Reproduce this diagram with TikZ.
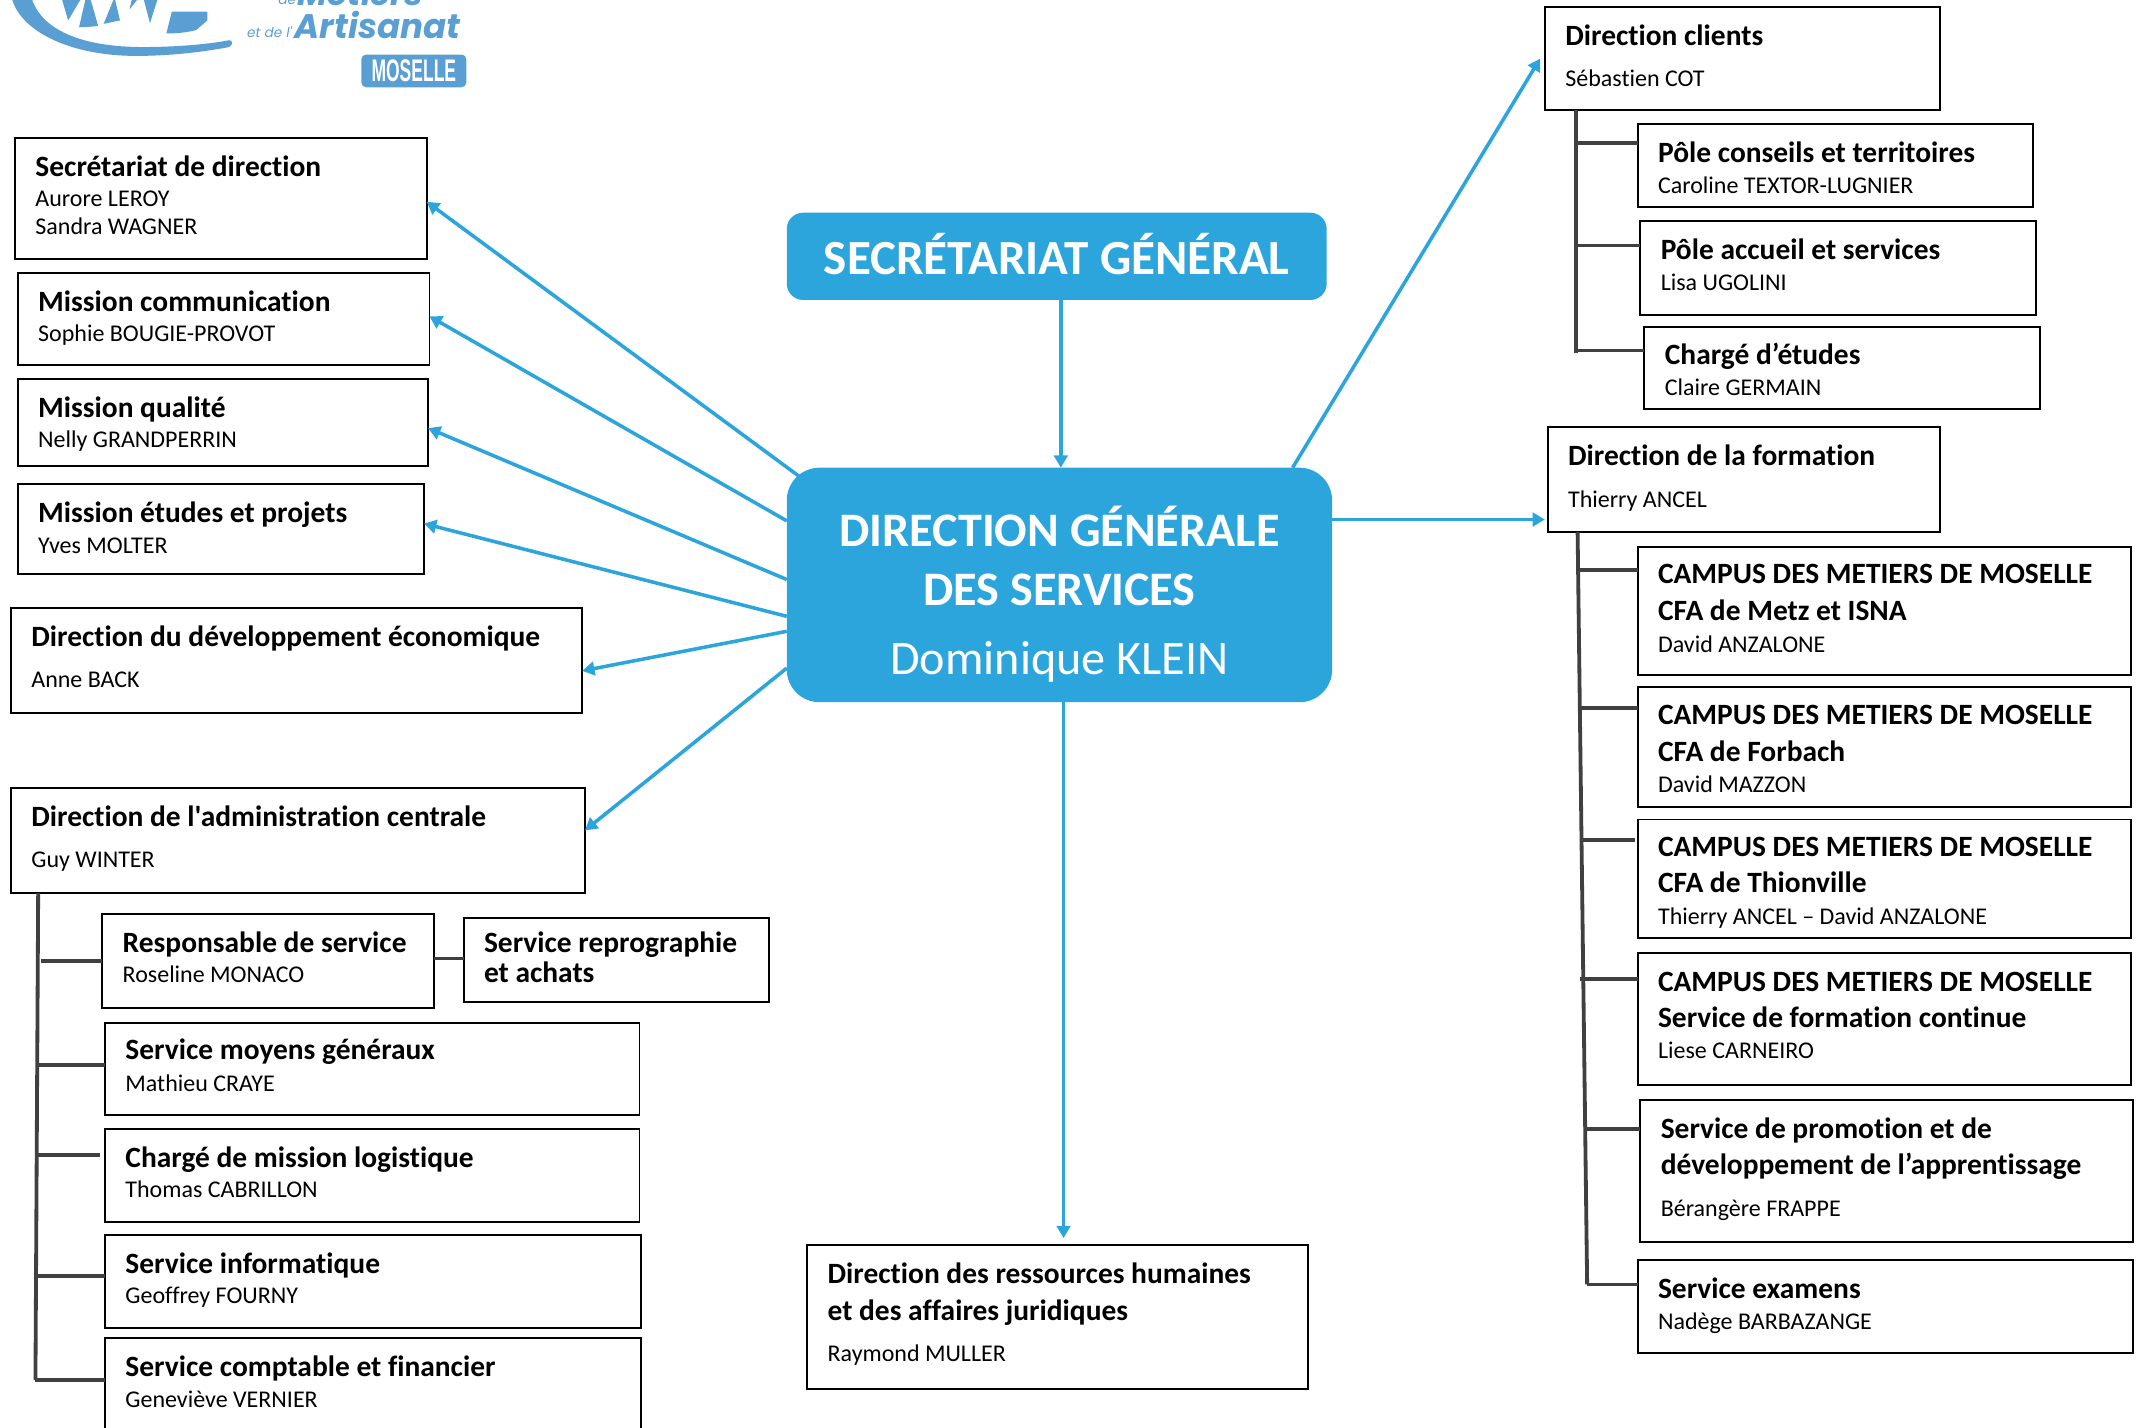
\documentclass[tikz,border=0pt]{standalone}
\usepackage{fontspec}
\setmainfont{Carlito}
\newfontfamily\calib{Carlito}[Ligatures=NoCommon]
\newfontfamily\logofont{Poppins}
\usetikzlibrary{arrows.meta,calc}
\definecolor{bl}{HTML}{2CA5DD}
\definecolor{lg}{HTML}{5A9FD4}
\definecolor{dk}{HTML}{404040}
\tikzset{
  boxst/.style={draw=black,line width=1.4pt,fill=white,inner sep=0pt,outer sep=0pt},
  arr/.style={draw=bl,line width=2.6pt,-{Triangle[length=9pt,width=10pt]},shorten >=0pt},
  tree/.style={draw=dk,line width=2.8pt},
  bluebox/.style={fill=bl,draw=none,inner sep=0pt,outer sep=0pt,text=white,rounded corners=#1},
  logoshape/.style={fill=lg,draw=none},
  logotext/.style={text=lg,inner sep=0pt,anchor=base west}
}
\newcommand\ttf{\calib\fontsize{21.6}{26}\selectfont\bfseries}
\newcommand\nmf{\calib\fontsize{17.6}{21}\selectfont}
\newcommand\hgf{\calib\fontsize{35.3}{40}\selectfont\bfseries}
\newcommand\lT[2]{\hbox{\kern15pt\raisebox{0pt}[#1pt][0pt]{\ttf #2}}}
\newcommand\lN[2]{\hbox{\kern15pt\raisebox{0pt}[#1pt][0pt]{\nmf #2}}}
\newcommand\lC[3]{\hbox to #1pt{\hss\raisebox{0pt}[#2pt][0pt]{#3}\hss}}
\newcommand\bx[6]{%
  \pgfmathsetmacro\bw{#4-#2}\pgfmathsetmacro\bh{#5-#3}%
  \node[boxst] (#1) at ({(#2+#4)/2},{(#3+#5)/2}) {\vbox to \bh pt{\offinterlineskip\hbox to \bw pt{}\kern0.2pt #6\vss}};}
\begin{document}
\begin{tikzpicture}[x=1pt,y=-1pt]
\useasboundingbox (0,0) rectangle (1568,1047.2);
\begin{scope}
\clip (0,0) rectangle (1568,1047.2);
% logo
\fill[logoshape] (8.5,-2) .. controls (14,22) and (50,41) .. (100,41) .. controls (125,41) and (150,38) .. (168,34.5)
  .. controls (171,33) and (171,29.5) .. (168,29.5) .. controls (150,33) and (125,34.5) .. (105,34.5)
  .. controls (60,34.5) and (30,22) .. (23,-2) -- cycle;
\fill[logoshape] (45,-2) -- (60,-2) -- (50,15) -- cycle;
\fill[logoshape] (58,20) -- (63,-2) -- (66,-2) -- (72,19) .. controls (68,19.5) and (62,20) .. (58,20) -- cycle;
\fill[logoshape] (76,17.5) -- (84,-2) -- (88,15) -- cycle;
\fill[logoshape] (95,7) -- (97,-2) -- (102,-2) -- cycle;
\fill[logoshape] (105,-2) -- (116,-2) -- (110,17) -- cycle;
\fill[logoshape] (126,8.5) -- (152,8.5) -- (152,15) -- (144,22) .. controls (136,24) and (130,24.5) .. (122,24.5) -- cycle;
\node[logotext] (lgde) at (204,3.5) {\logofont\itshape\fontsize{10}{12}\selectfont de};
\node[logotext] (lgmet) at (218,4) {\logofont\itshape\bfseries\fontsize{24}{28}\selectfont Métiers};
\node[logotext] (lget) at (181,27.5) {\logofont\itshape\fontsize{10}{12}\selectfont et de l'};
\node[logotext] (lgart) at (216,28) {\logofont\itshape\bfseries\fontsize{25}{28}\selectfont Artisanat};
\node[fill=lg,rounded corners=3.5pt,minimum width=77pt,minimum height=24pt,inner sep=0pt,text=white] (lgmos) at (303.5,52)
  {\resizebox{62pt}{16pt}{\fontspec{Liberation Sans}\bfseries MOSELLE}};
% left column
\bx{sec}{11}{101}{313}{190}{\lT{28}{Secrétariat de direction}\lN{22}{Aurore LEROY}\lN{21}{Sandra WAGNER}}
\bx{com}{13}{200}{315}{268}{\lT{28}{Mission communication}\lN{22}{Sophie BOUGIE-PROVOT}}
\bx{qua}{13}{278}{314}{342}{\lT{28}{Mission qualité}\lN{22}{Nelly GRANDPERRIN}}
\bx{etu}{13}{355}{311}{421}{\lT{28}{Mission études et projets}\lN{23}{Yves MOLTER}}
\bx{dev}{8}{446}{427}{523}{\lT{28}{Direction du développement économique}\lN{30}{Anne BACK}}
\bx{adm}{8}{578}{429}{655}{\lT{28}{Direction de l'administration centrale}\lN{30}{Guy WINTER}}
\bx{res}{75}{670}{318}{739}{\lT{28}{Responsable de service}\lN{22}{Roseline MONACO}}
\bx{rep}{340}{673}{564}{735}{\lT{25}{Service reprographie}\lT{22}{et achats}}
\bx{moy}{77}{750}{469}{818}{\lT{27}{Service moyens généraux}\lN{23}{Mathieu CRAYE}}
\bx{cha}{77}{828}{469}{896}{\lT{28}{Chargé de mission logistique}\lN{22}{Thomas CABRILLON}}
\bx{inf}{77}{906}{470}{974}{\lT{28}{Service informatique}\lN{22}{Geoffrey FOURNY}}
\bx{cpt}{77}{981}{470}{1056}{\lT{28}{Service comptable et financier}\lN{23}{Geneviève VERNIER}}
% centre
\bx{drh}{592}{913}{959}{1019}{\lT{28}{Direction des ressources humaines}\lT{27}{et des affaires juridiques}\lN{30}{Raymond MULLER}}
\node[bluebox=12pt] (sg) at (775,188) {\vbox to 64pt{\offinterlineskip\lC{396}{45}{\calib\fontsize{36}{40}\selectfont\bfseries SECRÉTARIAT GÉNÉRAL}\vss}};
\node[bluebox=24pt] (dgs) at (777,429)
 {\vbox to 172pt{\offinterlineskip
 \lC{400}{58}{\hgf DIRECTION GÉNÉRALE}%
 \lC{400}{43}{\hgf DES SERVICES}%
 \lC{400}{51}{\calib\fontsize{35.3}{40}\selectfont Dominique KLEIN}\vss}};
% right column
\bx{cli}{1133}{5}{1423}{81}{\lT{28}{Direction clients}\lN{30}{Sébastien COT}}
\bx{pol}{1201}{91}{1491}{152}{\lT{28}{Pôle conseils et territoires}\lN{23}{Caroline TEXTOR-LUGNIER}}
\bx{acc}{1203}{162}{1493}{231}{\lT{28}{Pôle accueil et services}\lN{23}{Lisa UGOLINI}}
\bx{ced}{1206}{240}{1496}{300}{\lT{27}{Chargé d’études}\lN{23}{Claire GERMAIN}}
\bx{for}{1135}{313}{1423}{390}{\lT{28}{Direction de la formation}\lN{31}{Thierry ANCEL}}
\bx{c1}{1201}{401}{1563}{495}{\lT{27}{CAMPUS DES METIERS DE MOSELLE}\lT{27}{CFA de Metz et ISNA}\lN{23}{David ANZALONE}}
\bx{c2}{1201}{504}{1563}{592}{\lT{27}{CAMPUS DES METIERS DE MOSELLE}\lT{27}{CFA de Forbach}\lN{23}{David MAZZON}}
\bx{c3}{1201}{601}{1563}{688}{\lT{27}{CAMPUS DES METIERS DE MOSELLE}\lT{26}{CFA de Thionville}\lN{24}{Thierry ANCEL – David ANZALONE}}
\bx{c4}{1201}{699}{1563}{796}{\lT{28}{CAMPUS DES METIERS DE MOSELLE}\lT{26}{Service de formation continue}\lN{23}{Liese CARNEIRO}}
\bx{pro}{1203}{807}{1564}{911}{\lT{28}{Service de promotion et de}\lT{26}{développement de l’apprentissage}\lN{31}{Bérangère FRAPPE}}
\bx{exa}{1201}{924}{1564}{992}{\lT{28}{Service examens}\lN{23}{Nadège BARBAZANGE}}
% arrows
\draw[arr] ([xshift=10,yshift=-7]dgs.north west) -- ([yshift=-2.5]sec.east);
\draw[arr] ([yshift=47]dgs.west) -- ([yshift=2]com.east);
\draw[arr] ([yshift=4]dgs.west) -- ([yshift=-4]qua.east);
\draw[arr] ([yshift=-23]dgs.west) -- ([yshift=4]etu.east);
\draw[arr] ([yshift=-34]dgs.west) -- ([yshift=-7.5]dev.east);
\draw[arr] ([yshift=-61]dgs.west) -- ([yshift=7.5]adm.east);
\draw[arr] ([xshift=3]sg.south) -- ([xshift=1]dgs.north);
\draw[arr] ([xshift=3]dgs.south) -- ([xshift=188,yshift=5]drh.north west);
\draw[arr] ([xshift=-29]dgs.north east) -- ([xshift=-3.5]cli.west);
\draw[arr] ([yshift=48]dgs.east) -- ([xshift=-2,yshift=-29.5]for.west);
% trees
\draw[tree] ([xshift=20]adm.south west) -- ([xshift=-51,yshift=6.5]cpt.west);
\draw[tree] ([xshift=-45,yshift=-0.5]res.west) -- ([yshift=-0.5]res.west);
\draw[tree] ([xshift=-49,yshift=3]moy.west) -- ([yshift=3]moy.west);
\draw[tree] ([xshift=-49,yshift=15]cha.west) -- ([xshift=-4,yshift=15]cha.west);
\draw[tree] ([xshift=-49,yshift=4]inf.west) -- ([yshift=4]inf.west);
\draw[tree] ([xshift=-51,yshift=6.5]cpt.west) -- ([yshift=6.5]cpt.west);
\draw[tree] ([yshift=1.5]res.east) -- ([yshift=1]rep.west);
\draw[tree] ([xshift=23]cli.south west) -- ([xshift=-50,yshift=11]ced.west);
\draw[tree] ([xshift=-45,yshift=16.5]pol.west) -- ([yshift=16.5]pol.west);
\draw[tree] ([xshift=-47,yshift=16.5]acc.west) -- ([yshift=16.5]acc.west);
\draw[tree] ([xshift=-50,yshift=13]ced.west) -- ([yshift=13]ced.west);
\draw[tree] ([xshift=22]for.south west) -- ([xshift=-37,yshift=16]exa.west);
\draw[tree] ([xshift=-44,yshift=30]c1.west) -- ([yshift=30]c1.west);
\draw[tree] ([xshift=-44,yshift=29]c2.west) -- ([yshift=29]c2.west);
\draw[tree] ([xshift=-40,yshift=28.5]c3.west) -- ([xshift=-2,yshift=28.5]c3.west);
\draw[tree] ([xshift=-42,yshift=29.5]c4.west) -- ([yshift=29.5]c4.west);
\draw[tree] ([xshift=-39,yshift=31]pro.west) -- ([yshift=31]pro.west);
\draw[tree] ([xshift=-37,yshift=16]exa.west) -- ([yshift=16]exa.west);
\end{scope}
\end{tikzpicture}
\end{document}
